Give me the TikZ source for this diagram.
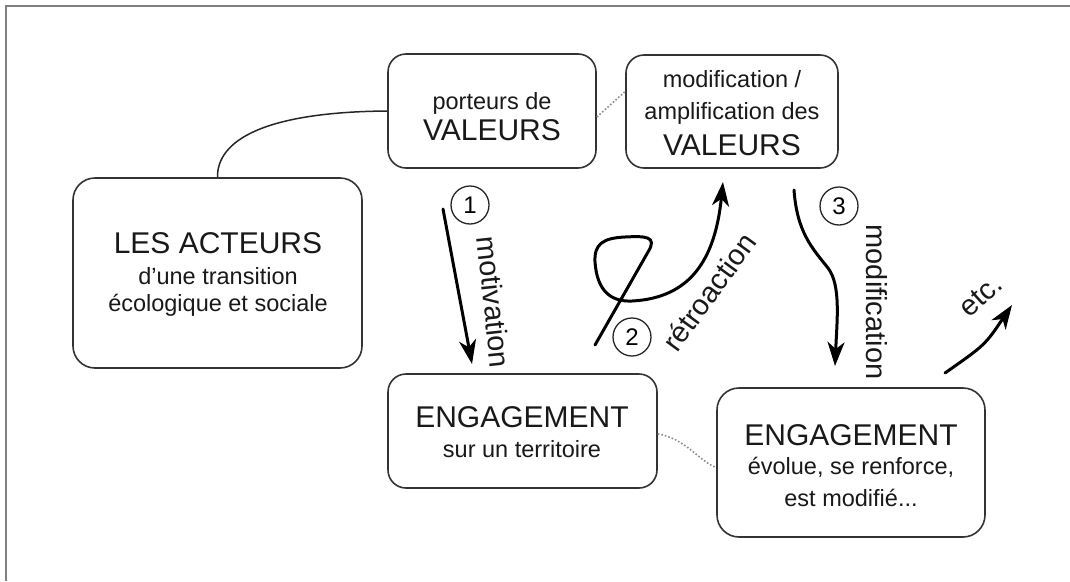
\documentclass[tikz,border=0pt]{standalone}
\usepackage{fontspec}
\setmainfont{Liberation Sans}
\usetikzlibrary{arrows.meta}
\begin{document}
\begin{tikzpicture}[x=1pt,y=-1pt,
 box/.style={draw=black!80, line width=1.6pt, rounded corners=18pt, inner sep=0pt},
 big/.style={font=\fontsize{30}{34}\selectfont, anchor=base, inner sep=0pt, text=black!90},
 small/.style={font=\fontsize{23.5}{28}\selectfont, anchor=base, inner sep=0pt, text=black!90},
 flow/.style={line width=3pt, line cap=round, -{Stealth[length=24pt,width=17pt,inset=7pt]}},
 num/.style={circle, draw=black!85, line width=1.3pt, minimum size=38pt, inner sep=0pt, font=\fontsize{24}{28}\selectfont},
 lbl/.style={font=\fontsize{29}{32}\selectfont, inner sep=0pt, text=black!90},
 dots/.style={draw=black!45, line width=1.6pt, dotted}
]
\useasboundingbox (0,0) rectangle (1070,581);
\draw[black!50, line width=2pt] (6,581) -- (6,6) -- (1070,6);

% boxes
\node[box, minimum width=208pt, minimum height=114pt] (pv) at (492,111) {};
\node[box, minimum width=212pt, minimum height=113pt] (mv) at (732,111.5) {};
\node[box, minimum width=289pt, minimum height=190pt, rounded corners=22pt] (ac) at (217.5,273) {};
\node[box, minimum width=269pt, minimum height=114pt] (e1) at (522.5,431) {};
\node[box, minimum width=268pt, minimum height=149pt, rounded corners=22pt] (e2) at (851,462.5) {};

% texts
\node[small] (pv1) at (492,109) {porteurs de};
\node[big] (pv2) at (492,140) {VALEURS};
\node[small] (mv1) at (732,87) {modification /};
\node[small] (mv2) at (732,119) {amplification des};
\node[big] (mv3) at (732,155) {VALEURS};
\node[big] (ac1) at (218,253) {LES ACTEURS};
\node[small] (ac2) at (218,284) {d’une transition};
\node[small] (ac3) at (218,311) {écologique et sociale};
\node[big] (e11) at (522,427) {ENGAGEMENT};
\node[small] (e12) at (522,457) {sur un territoire};
\node[big] (e21) at (851,445) {ENGAGEMENT};
\node[small] (e22) at (851,474) {évolue, se renforce,};
\node[small] (e23) at (851,506) {est modifié...};

% connectors
\draw[line width=1.5pt, black!85] (pv.west) .. controls (265,112) and (217,140) .. (ac.north);
\draw[dots] ([yshift=-6pt]pv.east) -- ([yshift=20pt]mv.west);
\draw[dots] ([yshift=-3pt]e1.east) .. controls (685,438) and (700,462) .. ([yshift=-5pt]e2.west);

% arrow 1
\coordinate (a1s) at (443,209);
\coordinate (a1e) at (472,364);
\draw[flow] (a1s) -- (a1e);
\node[num] (n1) at (470,205) {1};
\node[lbl, rotate=-84] (l1) at (494,302) {motivation};

% arrow 2
\coordinate (a2s) at (595,345);
\coordinate (a2e) at (723,182);
\draw[flow] (a2s) -- (648,252) .. controls (658,236) and (645,236) .. (625,237)
  .. controls (603,238) and (594,244) .. (595,262)
  .. controls (597,290) and (610,302) .. (632,301)
  .. controls (690,298) and (715,260) .. (a2e);
\node[num] (n2) at (632,337) {2};
\node[lbl, rotate=54] (l2) at (709,292) {rétroaction};

% arrow 3
\coordinate (a3s) at (794,190);
\coordinate (a3e) at (835,366);
\draw[flow] (a3s) .. controls (797,232) and (812,248) .. (828,268)
  .. controls (841,285) and (837,320) .. (a3e);
\node[num] (n3) at (839,206) {3};
\node[lbl, rotate=-90] (l3) at (877,302) {modification};

% etc arrow
\coordinate (a4s) at (945,373);
\coordinate (a4e) at (1012,305);
\draw[flow] (a4s) .. controls (985,345) .. (a4e);
\node[lbl, rotate=42] (l4) at (981,296) {etc.};
\end{tikzpicture}
\end{document}
